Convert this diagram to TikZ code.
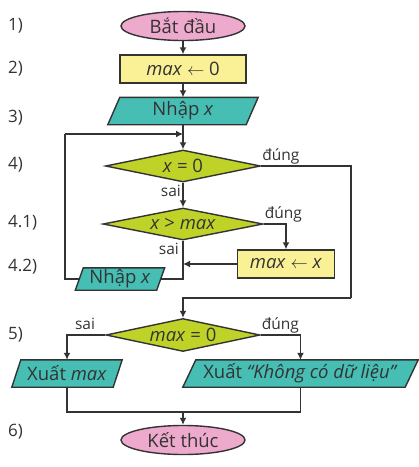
\documentclass[tikz,border=0pt]{standalone}
\usepackage{fontspec}
\setmainfont{Open Sans}
\usetikzlibrary{shapes.geometric,arrows.meta,backgrounds,calc}
\definecolor{linec}{HTML}{333333}
\definecolor{pinkc}{HTML}{EEAACD}
\definecolor{yellowc}{HTML}{FAF096}
\definecolor{tealc}{HTML}{46BEB4}
\definecolor{greenc}{HTML}{BED228}
\tikzset{
  base/.style={inner sep=0pt, font=\fontsize{18.5}{20}\selectfont, text=linec},
  term/.style={base, ellipse, draw=linec, line width=1.4pt, fill=pinkc, minimum width=124pt, minimum height=29pt},
  procbox/.style={base, rectangle, draw=linec, line width=1.4pt, fill=yellowc},
  decbox/.style={base, diamond, aspect=6, draw=linec, line width=1.4pt, fill=greenc},
  iotext/.style={base, rectangle},
  iobox/.style={fill=tealc, draw=linec, line width=1.4pt},
  conn/.style={draw=linec, line width=1.6pt},
  arr/.style={conn, -{Latex[length=7pt,width=7pt]}},
  lbl/.style={font=\fontsize{15.5}{17}\selectfont, text=linec, inner sep=1pt},
  numlbl/.style={font=\fontsize{17}{19}\selectfont, text=linec, anchor=west, inner sep=0pt}
}
\newcommand{\parabox}[6]{%
  \node[iotext, minimum width=#3, minimum height=#4] (#1) at #2 {#6};
  \begin{scope}[on background layer]
    \path[iobox] ($(#1.north west)+(#5,0)$) -- (#1.north east) -- ($(#1.south east)-(#5,0)$) -- (#1.south west) -- cycle;
  \end{scope}
  \coordinate (#1-e) at ($(#1.east)-(#5/2,0)$);
  \coordinate (#1-w) at ($(#1.west)+(#5/2,0)$);
}
\begin{document}
\begin{tikzpicture}[x=1pt,y=-1pt]
\useasboundingbox (0,0) rectangle (419,467);
% step labels
\node[numlbl] (n1) at (8,26) {1)};
\node[numlbl] (n2) at (8,69) {2)};
\node[numlbl] (n3) at (8,118) {3)};
\node[numlbl] (n4) at (8,165) {4)};
\node[numlbl] (n41) at (8,223) {4.1)};
\node[numlbl] (n42) at (8,267) {4.2)};
\node[numlbl] (n5) at (8,335) {5)};
\node[numlbl] (n6) at (8,432) {6)};
% nodes
\node[term] (start) at (183,26) {Bắt đầu};
\node[procbox, minimum width=126pt, minimum height=28pt] (init) at (183,69) {\textit{max} $\leftarrow$ 0};
\parabox{in1}{(183,111)}{150pt}{27pt}{12}{Nhập \textit{x}}
\node[decbox, minimum width=155pt, minimum height=32pt] (d4) at (183,166) {\textit{x} = 0};
\node[decbox, minimum width=160pt, minimum height=32pt] (d41) at (183,224) {\textit{x} > \textit{max}};
\node[procbox, minimum width=97pt, minimum height=28pt] (upd) at (286,264) {\textit{max} $\leftarrow$ \textit{x}};
\parabox{in2}{(120,279)}{89pt}{22pt}{8}{Nhập \textit{x}}
\node[decbox, minimum width=154pt, minimum height=33pt] (d5) at (183,335) {\textit{max} = 0};
\parabox{out1}{(67,373.5)}{110pt}{27pt}{9}{Xuất \textit{max}}
\parabox{out2}{(300.5,373.5)}{235pt}{27pt}{13}{Xuất \textit{“Không có dữ liệu”}}
\node[term] (end) at (183,440) {Kết thúc};
% helper coordinates
\coordinate (loopL) at (65,134);
\coordinate (loopJ) at (183,134);
\coordinate (rgt) at (351,298);
\coordinate (merge) at (183,412);
% connectors
\draw[arr] (start) -- (init);
\draw[arr] (init) -- (in1.north);
\draw[arr] (in1.south) -- (d4.north);
\draw[conn] (in2-w) -| (loopL);
\draw[arr] (loopL) -- (loopJ);
\draw[arr] (d4.south) -- (d41.north);
\node[lbl, anchor=east] (s1) at (182,191) {sai};
\draw[conn] (d4.east) -| (rgt);
\draw[arr] (rgt) -| (d5.north);
\node[lbl, anchor=south west] (t1) at ([yshift=1pt]d4.east) {đúng};
\draw[arr] (d41.east) -| (upd.north);
\node[lbl, anchor=south west] (t2) at ([yshift=1pt]d41.east) {đúng};
\draw[arr] (upd.west) -- (upd.west -| d41.south);
\draw[conn] (d41.south) |- (in2-e);
\node[lbl, anchor=east] (s2) at (180,249) {sai};
\draw[arr] (d5.west) -| (out1.north);
\node[lbl, anchor=south] (s3) at (85,331) {sai};
\draw[arr] (d5.east) -| (out2.north);
\node[lbl, anchor=south west] (t3) at ([yshift=1pt]d5.east) {đúng};
\draw[conn] (out1.south) |- (merge) -| (out2.south);
\draw[arr] (merge) -- (end.north);
\end{tikzpicture}
\end{document}
